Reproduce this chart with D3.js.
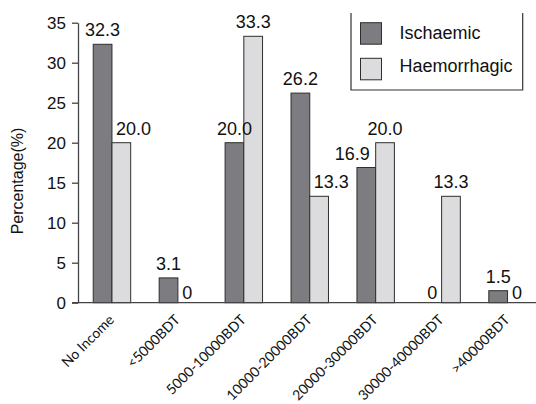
<!DOCTYPE html>
<html>
<head>
<meta charset="utf-8">
<script src="https://cdn.jsdelivr.net/npm/d3@7"></script>
<style>
  html, body { margin: 0; padding: 0; background: #fff; }
  svg { display: block; }
</style>
</head>
<body>
<script>
const categories = ["No Income", "<5000BDT", "5000-10000BDT", "10000-20000BDT", "20000-30000BDT", "30000-40000BDT", ">40000BDT"];
const ischaemic = [32.3, 3.1, 20.0, 26.2, 16.9, 0, 1.5];
const haemorrhagic = [20.0, 0, 33.3, 13.3, 20.0, 13.3, 0];
const seriesNames = ["Ischaemic", "Haemorrhagic"];
const yTicks = [0, 5, 10, 15, 20, 25, 30, 35];

const W = 536, H = 404;
const colors = { Ischaemic: "#7c7c81", Haemorrhagic: "#dcdcde" };
const stroke = "#2e2e2e";

const svg = d3.select("body").append("svg").attr("width", W).attr("height", H);

const x = d3.scaleBand().domain(categories).range([79, 540.5]).padding(0);
const y = d3.scaleLinear().domain([0, 35]).range([302.7, 22.7]);
const bw = x.bandwidth() * 0.284;

const fmt = v => v === 0 ? "0" : d3.format(".1f")(v);

// Y axis
const yAxis = svg.append("g")
  .attr("transform", "translate(78,0)")
  .call(d3.axisLeft(y).tickValues(yTicks).tickSize(6).tickSizeOuter(0).tickPadding(6).tickFormat(d3.format("d")));
yAxis.select(".domain").attr("stroke", "#444").attr("stroke-width", 1.3);
yAxis.selectAll(".tick line").attr("stroke", "#444").attr("stroke-width", 1.3);
yAxis.selectAll(".tick text")
  .attr("font-family", "'Liberation Sans', Arial, sans-serif")
  .attr("font-size", 17).attr("fill", "#111");

// Y label
svg.append("text")
  .attr("transform", "translate(23,181) rotate(-90)")
  .attr("text-anchor", "middle")
  .attr("font-family", "'Liberation Sans', Arial, sans-serif")
  .attr("font-size", 16).attr("fill", "#111")
  .text("Percentage(%)");

// Bars
const data = categories.map((c, i) => ({ c, i, isc: ischaemic[i], hae: haemorrhagic[i] }));
const groups = svg.append("g").selectAll("g").data(data).join("g");

groups.append("rect")
  .attr("x", d => x(d.c) + x.bandwidth() / 2 - bw)
  .attr("y", d => y(d.isc))
  .attr("width", bw)
  .attr("height", d => y(0) - y(d.isc))
  .attr("fill", colors.Ischaemic)
  .attr("stroke", d => d.isc > 0 ? stroke : "none").attr("stroke-width", 1);

groups.append("rect")
  .attr("x", d => x(d.c) + x.bandwidth() / 2)
  .attr("y", d => y(d.hae))
  .attr("width", bw)
  .attr("height", d => y(0) - y(d.hae))
  .attr("fill", colors.Haemorrhagic)
  .attr("stroke", d => d.hae > 0 ? stroke : "none").attr("stroke-width", 1);

// X axis line
svg.append("line")
  .attr("x1", 72).attr("x2", W).attr("y1", y(0)).attr("y2", y(0))
  .attr("stroke", "#444").attr("stroke-width", 1.3);

// Value labels
const lblFont = "'Liberation Sans', Arial, sans-serif";
const lblSize = 18;
const gap = 8;
const base = v => v === 0 ? y(0) - 4 : y(v) - gap;
groups.each(function (d) {
  const g = d3.select(this);
  const cx = x(d.c) + x.bandwidth() / 2;
  // ischaemic label: nudged left if the neighbouring bar reaches into its line
  const ti = g.append("text")
    .attr("font-family", lblFont).attr("font-size", lblSize).attr("fill", "#111")
    .attr("text-anchor", "middle")
    .attr("x", cx - bw / 2)
    .attr("y", base(d.isc))
    .text(fmt(d.isc));
  const bI = base(d.isc);
  if (d.hae > d.isc && y(d.hae) > bI - lblSize) {
    ti.attr("text-anchor", "end").attr("x", cx - 6);
  }
  // haemorrhagic label: nudged right if the ischaemic bar is taller
  const th = g.append("text")
    .attr("font-family", lblFont).attr("font-size", lblSize).attr("fill", "#111")
    .attr("text-anchor", "middle")
    .attr("x", cx + bw / 2)
    .attr("y", base(d.hae))
    .text(fmt(d.hae));
  if (d.isc > d.hae && d.hae > 0) {
    th.attr("text-anchor", "start").attr("x", cx + 4);
  }
});

// X tick labels
svg.append("g").selectAll("text").data(categories).join("text")
  .attr("transform", d => `translate(${x(d) + x.bandwidth() / 2 + 3},${y(0) + 18}) rotate(-45)`)
  .attr("text-anchor", "end")
  .attr("font-family", "Lato, 'Open Sans', sans-serif")
  .attr("font-size", 14).attr("fill", "#111")
  .text(d => d);

// Legend
const lg = svg.append("g");
lg.append("path")
  .attr("d", "M351,13V90H522.7V13")
  .attr("fill", "none").attr("stroke", "#333").attr("stroke-width", 1.2);
seriesNames.forEach((s, i) => {
  lg.append("rect")
    .attr("x", 360.5).attr("y", 22.7 + i * 35.6)
    .attr("width", 21).attr("height", 21.5)
    .attr("fill", colors[s]).attr("stroke", stroke).attr("stroke-width", 1);
  lg.append("text")
    .attr("x", 399.5).attr("y", 39 + i * 33.3)
    .attr("font-family", lblFont).attr("font-size", 18).attr("fill", "#111")
    .text(s);
});
</script>
</body>
</html>
